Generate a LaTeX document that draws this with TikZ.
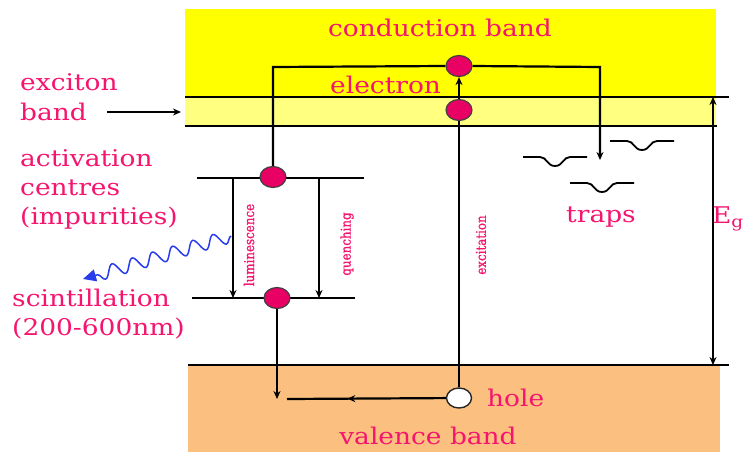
\documentclass[tikz,border=0pt]{standalone}
\usepackage{fontspec}
\setmainfont{DejaVu Serif}[FakeStretch=1.15]
\newfontfamily\smallrot{DejaVu Serif}[FakeStretch=0.88, FakeBold=1]
\usetikzlibrary{arrows.meta,decorations.pathmorphing,decorations.markings,shapes.geometric}
\definecolor{cband}{RGB}{255,255,0}
\definecolor{xband}{RGB}{255,255,128}
\definecolor{vband}{RGB}{251,191,127}
\definecolor{pinktxt}{RGB}{245,20,110}
\definecolor{dotpink}{RGB}{232,0,100}
\definecolor{wavec}{RGB}{40,60,235}
\begin{document}
\begin{tikzpicture}[x=1pt,y=-1pt,
  lbl/.style={text=pinktxt, font=\fontsize{23}{28}\selectfont, inner sep=0pt},
  tiny/.style={text=pinktxt, font=\smallrot\fontsize{13.5}{14}\selectfont, rotate=90, inner sep=0pt},
  level/.style={line width=2pt},
  conn/.style={line width=2.2pt},
  tip/.style={-{Stealth[length=8pt,width=7pt]}},
  elec/.style={ellipse, draw=black!75, fill=dotpink, minimum width=26pt, minimum height=21pt, inner sep=0pt, line width=1.2pt},
  holec/.style={ellipse, draw=black!85, fill=white, minimum width=25pt, minimum height=20pt, inner sep=0pt, line width=1.4pt},
  midleft/.style={postaction={decorate}, decoration={markings, mark=at position 0.62 with {\arrow{Stealth[length=8pt,width=7pt]}}}},
  trapline/.style={line width=1.8pt},
  trap/.pic={\draw[trapline] (-32,0) -- (-15,0) .. controls (-8,0) and (-8,9) .. (0,9) .. controls (8,9) and (8,0) .. (15,0) -- (32,0);}
]
\useasboundingbox (0,0) rectangle (744,452);
% bands
\fill[cband] (185,9) rectangle (716,97);
\fill[xband] (185,97) rectangle (716,126);
\fill[vband] (188,365) rectangle (720,452);
\draw[level] (185,97) -- (729,97);
\draw[level] (185,126) -- (717,126);
\draw[level] (188,365) -- (729,365);
% activation levels
\draw[level] (197,178) -- (364,178);
\draw[level] (192,298) -- (355,298);
% texts
\node[lbl] (cb) at (440,28) {conduction band};
\node[lbl, anchor=base west] (el) at (330,93) {electron};
\node[lbl, anchor=base west] (ex1) at (20,90) {exciton};
\node[lbl, anchor=base west] (ex2) at (20,120) {band};
\node[lbl, anchor=base west] (ac1) at (20,166) {activation};
\node[lbl, anchor=base west] (ac2) at (20,195) {centres};
\node[lbl, anchor=base west] (ac3) at (20,224) {(impurities)};
\node[lbl, anchor=base west] (sc1) at (12,306) {scintillation};
\node[lbl, anchor=base west] (sc2) at (12,335) {(200-600nm)};
\node[lbl] (tr) at (601,217) {traps};
\node[lbl, anchor=base west] (ho) at (487,406) {hole};
\node[lbl] (vb) at (428,436) {valence band};
\node[lbl, anchor=east] (eg) at (744,219) {E\textsubscript{g}};
\node[tiny] (lum) at (249,245) {luminescence};
\node[tiny] (que) at (347,244) {quenching};
\node[tiny] (exc) at (481,245) {excitation};
% particles
\node[elec] (e1) at (459,66) {};
\node[elec] (e2) at (459,110) {};
\node[elec] (a1) at (273,177) {};
\node[elec] (a2) at (277,298) {};
\node[holec] (h) at (459,398) {};
% coordinates
\coordinate (tl) at (273,67);
\coordinate (trc) at (600,67);
\coordinate (tt) at (600,160);
\coordinate (lt) at (233,178);
\coordinate (lb) at (233,298);
\coordinate (qt) at (319,178);
\coordinate (qb) at (319,298);
\coordinate (vd) at (277,399);
\coordinate (hl) at (287,399);
\coordinate (xa) at (107,112);
\coordinate (xb) at (181,112);
\coordinate (gt) at (713,97);
\coordinate (gb) at (713,365);
\coordinate (ws) at (231,236);
\coordinate (we) at (83,279);
% connectors
\draw[conn] (a1) -- (tl) -- (e1.west);
\draw[conn, tip] (e1.east) -- (trc) -- (tt);
\draw[conn] (h) -- (e2);
\draw[conn, tip] (e2) -- (e1);
\draw[conn, tip] (lt) -- (lb);
\draw[conn, tip] (qt) -- (qb);
\draw[conn, tip] (a2) -- (vd);
\draw[conn, midleft] (h) -- (hl);
\draw[line width=1.8pt, tip] (xa) -- (xb);
\draw[line width=1.8pt, {Stealth[length=8pt,width=7pt]}-{Stealth[length=8pt,width=7pt]}] (gt) -- (gb);
\draw[wavec, line width=1.5pt, decorate, decoration={snake, amplitude=6.5pt, segment length=21pt, post length=11pt}, -{Triangle[length=13pt,width=12pt]}] (ws) -- (we);
% traps
\draw[trapline, black!45] (523,157) -- (540,157);
\pic at (555,157) {trap};
\pic at (642,141) {trap};
\pic at (602,183) {trap};
\end{tikzpicture}
\end{document}
